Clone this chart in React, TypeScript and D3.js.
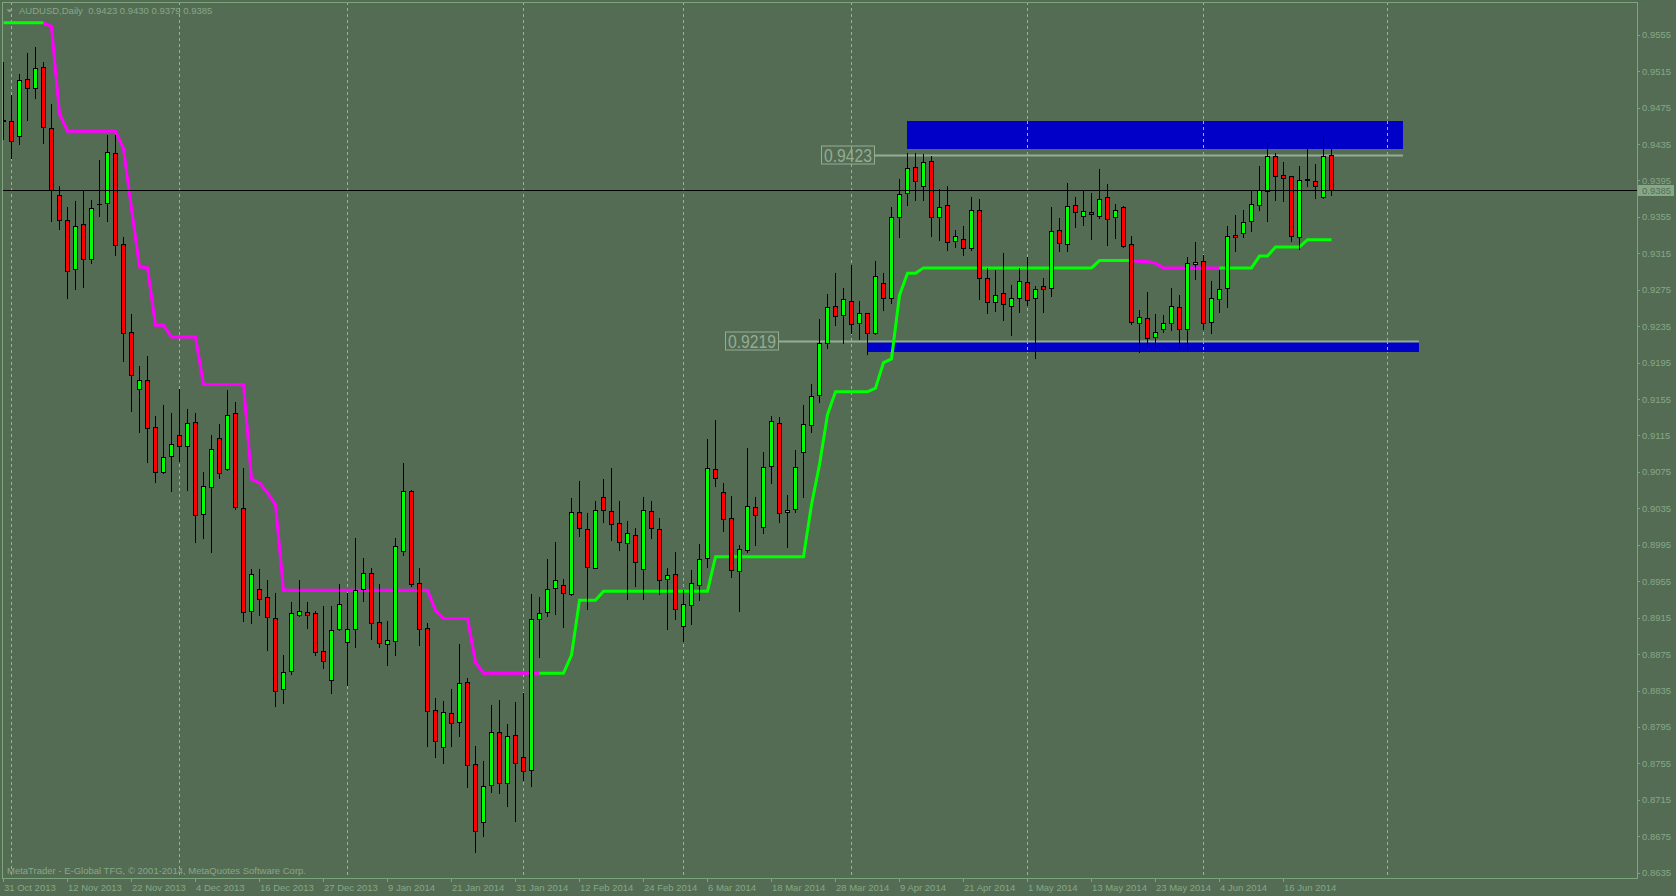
import React, { useEffect } from "react";
import * as d3 from "d3";

const N = null;

const symbol = "AUDUSD";
const period = "Daily";
const copyright = "MetaTrader - E-Global TFG, © 2001-2014, MetaQuotes Software Corp.";

const opens = [
  0.9461, 0.946, 0.9444, 0.9506, 0.9496, 0.9519, 0.9453, 0.9379, 0.9352, 0.9298,
  0.9347, 0.9309, 0.9369, 0.937, 0.9425, 0.9325, 0.9229, 0.9166, 0.9176, 0.9124,
  0.9075, 0.9092, 0.9116, 0.9104, 0.913, 0.9029, 0.9058, 0.9112, 0.9078, 0.914,
  0.9035, 0.8922, 0.8946, 0.8938, 0.8915, 0.8837, 0.8856, 0.8918, 0.8921, 0.892,
  0.8878, 0.8847, 0.8902, 0.8888, 0.8902, 0.8947, 0.8964, 0.891, 0.8886, 0.8889,
  0.8988, 0.9054, 0.8953, 0.8904, 0.8814, 0.8773, 0.881, 0.88, 0.8844, 0.8754,
  0.8691, 0.8731, 0.879, 0.8734, 0.8786, 0.8762, 0.8748, 0.8914, 0.8921, 0.8948,
  0.8951, 0.8941, 0.9031, 0.9012, 0.897, 0.9048, 0.9032, 0.9019, 0.8997, 0.9006,
  0.8968, 0.9032, 0.9012, 0.8957, 0.8963, 0.8906, 0.8929, 0.8951, 0.898, 0.9078,
  0.9053, 0.9024, 0.8966, 0.8989, 0.9037, 0.9014, 0.9081, 0.9129, 0.9031, 0.9034,
  0.9097, 0.9127, 0.9159, 0.9216, 0.9257, 0.9247, 0.9263, 0.9238, 0.9249, 0.9228,
  0.9282, 0.9266, 0.9355, 0.9381, 0.941, 0.9389, 0.9416, 0.9355, 0.9368, 0.9328,
  0.9331, 0.9321, 0.9362, 0.9288, 0.9262, 0.9271, 0.9257, 0.9266, 0.9284, 0.9266,
  0.9279, 0.9277, 0.9341, 0.9325, 0.9368, 0.9356, 0.936, 0.9356, 0.9377, 0.9355,
  0.9366, 0.9325, 0.9239, 0.9244, 0.9223, 0.9232, 0.9239, 0.9256, 0.9232, 0.9303,
  0.9307, 0.924, 0.9265, 0.9277, 0.9335, 0.9337, 0.935, 0.9368, 0.9383, 0.9422,
  0.9401, 0.94, 0.9333, 0.9397, 0.9394, 0.9377, 0.9423,
];
const highs = [
  0.9525, 0.9489, 0.9512, 0.9535, 0.9542, 0.9525, 0.9479, 0.9389, 0.9366, 0.9372,
  0.9385, 0.9374, 0.9417, 0.9445, 0.9445, 0.9333, 0.9248, 0.9191, 0.9202, 0.9136,
  0.9148, 0.914, 0.9166, 0.9144, 0.914, 0.9075, 0.9116, 0.9128, 0.9165, 0.9152,
  0.9079, 0.8968, 0.8968, 0.8956, 0.8942, 0.8874, 0.8932, 0.8956, 0.8932, 0.8922,
  0.8928, 0.8928, 0.8952, 0.8942, 0.9003, 0.8981, 0.8969, 0.8952, 0.8911, 0.9003,
  0.9085, 0.9055, 0.8969, 0.8909, 0.8827, 0.8824, 0.8837, 0.8886, 0.8849, 0.8774,
  0.8758, 0.8819, 0.8825, 0.8798, 0.8822, 0.8832, 0.8941, 0.8938, 0.8979, 0.8998,
  0.8957, 0.9046, 0.9065, 0.903, 0.9043, 0.9067, 0.9079, 0.9043, 0.9021, 0.9013,
  0.9048, 0.9043, 0.9024, 0.8969, 0.8987, 0.8945, 0.8967, 0.8996, 0.9111, 0.9132,
  0.9063, 0.9049, 0.8995, 0.9101, 0.9048, 0.9097, 0.9136, 0.9135, 0.905, 0.9099,
  0.9148, 0.9172, 0.9243, 0.927, 0.9293, 0.9277, 0.9302, 0.9263, 0.925, 0.9307,
  0.9293, 0.9366, 0.9397, 0.9425, 0.9425, 0.9424, 0.9422, 0.9386, 0.9389, 0.9341,
  0.9345, 0.9377, 0.9375, 0.9299, 0.9297, 0.9315, 0.928, 0.9299, 0.9311, 0.9279,
  0.9288, 0.9366, 0.9354, 0.9392, 0.9377, 0.9384, 0.9381, 0.9408, 0.9391, 0.9369,
  0.9367, 0.9334, 0.9253, 0.9272, 0.9248, 0.9247, 0.9277, 0.9269, 0.9311, 0.9327,
  0.9313, 0.9285, 0.9297, 0.9345, 0.9357, 0.9363, 0.9384, 0.9411, 0.9436, 0.9425,
  0.9415, 0.94, 0.9411, 0.943, 0.9413, 0.9444, 0.943,
];
const lows = [
  0.9441, 0.942, 0.9435, 0.9461, 0.9485, 0.9436, 0.9351, 0.9342, 0.9266, 0.9276,
  0.9278, 0.9304, 0.9356, 0.9351, 0.9313, 0.9197, 0.9142, 0.9119, 0.9086, 0.9064,
  0.9074, 0.9054, 0.9087, 0.9055, 0.8998, 0.9002, 0.8987, 0.9068, 0.9077, 0.9034,
  0.8911, 0.8909, 0.8918, 0.888, 0.8818, 0.8821, 0.8853, 0.8917, 0.8904, 0.8874,
  0.886, 0.8832, 0.8901, 0.8841, 0.8883, 0.8933, 0.8892, 0.8883, 0.8863, 0.8874,
  0.8984, 0.895, 0.8885, 0.8774, 0.8762, 0.8755, 0.8774, 0.8785, 0.8729, 0.8658,
  0.8675, 0.8724, 0.8723, 0.8708, 0.8692, 0.8737, 0.873, 0.8872, 0.8917, 0.8919,
  0.8905, 0.894, 0.9005, 0.8925, 0.8969, 0.902, 0.9, 0.8989, 0.8935, 0.895,
  0.8936, 0.9002, 0.8941, 0.8902, 0.8914, 0.8889, 0.8908, 0.8934, 0.8971, 0.906,
  0.901, 0.896, 0.8922, 0.8987, 0.8995, 0.9008, 0.9063, 0.902, 0.8993, 0.9031,
  0.9047, 0.9119, 0.9152, 0.9211, 0.9236, 0.9216, 0.9228, 0.9221, 0.9204, 0.9226,
  0.9253, 0.926, 0.9333, 0.9368, 0.9374, 0.9374, 0.9334, 0.933, 0.9319, 0.9322,
  0.9313, 0.9319, 0.9265, 0.925, 0.9252, 0.9242, 0.9225, 0.9251, 0.9258, 0.92,
  0.9251, 0.9268, 0.9317, 0.9317, 0.9344, 0.9346, 0.9331, 0.9354, 0.9324, 0.9332,
  0.9322, 0.9237, 0.9207, 0.9212, 0.9212, 0.9229, 0.9231, 0.9211, 0.921, 0.9287,
  0.9232, 0.9227, 0.9251, 0.9256, 0.9317, 0.9333, 0.9339, 0.9363, 0.935, 0.9374,
  0.9372, 0.9328, 0.932, 0.9389, 0.9376, 0.9376, 0.9379,
];
const closes = [
  0.946, 0.9438, 0.9505, 0.9497, 0.9518, 0.9454, 0.9384, 0.9352, 0.9296, 0.9345,
  0.9309, 0.9365, 0.9369, 0.9426, 0.9324, 0.9228, 0.9181, 0.9176, 0.9123, 0.9075,
  0.9091, 0.9106, 0.9103, 0.9129, 0.9028, 0.9059, 0.91, 0.9074, 0.9138, 0.9036,
  0.8921, 0.8963, 0.8936, 0.8916, 0.8835, 0.8855, 0.892, 0.8922, 0.8918, 0.8877,
  0.8867, 0.8901, 0.893, 0.8903, 0.8945, 0.8964, 0.8909, 0.8887, 0.889, 0.8994,
  0.9054, 0.8952, 0.8903, 0.8813, 0.878, 0.8811, 0.8799, 0.8843, 0.8753, 0.8681,
  0.873, 0.8789, 0.8733, 0.8785, 0.8755, 0.8747, 0.8913, 0.892, 0.8947, 0.8956,
  0.8942, 0.9031, 0.9013, 0.8971, 0.9033, 0.9033, 0.9018, 0.8998, 0.9008, 0.8976,
  0.9033, 0.9013, 0.8956, 0.8962, 0.8925, 0.893, 0.8953, 0.8979, 0.9079, 0.9068,
  0.9023, 0.8967, 0.899, 0.9038, 0.9028, 0.908, 0.9131, 0.903, 0.9033, 0.908,
  0.9128, 0.9158, 0.9217, 0.9256, 0.9246, 0.9265, 0.9237, 0.925, 0.9227, 0.929,
  0.9266, 0.9355, 0.938, 0.9409, 0.9394, 0.9415, 0.9355, 0.9366, 0.9327, 0.9334,
  0.9321, 0.9363, 0.9288, 0.9261, 0.9269, 0.9259, 0.9266, 0.9285, 0.9264, 0.9276,
  0.9276, 0.934, 0.9326, 0.9367, 0.936, 0.9361, 0.9358, 0.9375, 0.9353, 0.9362,
  0.9323, 0.924, 0.9245, 0.9222, 0.9229, 0.9238, 0.9257, 0.9232, 0.9304, 0.9306,
  0.9239, 0.9266, 0.9276, 0.9334, 0.9333, 0.9349, 0.9369, 0.9384, 0.9422, 0.94,
  0.9398, 0.9334, 0.9396, 0.9395, 0.9389, 0.9422, 0.9385,
];

// trailing trend line: green buffer (up) and magenta buffer (down)
const trendUp = [
  0.9568, 0.9568, 0.9568, 0.9568, 0.9568, 0.9568, N, N, N, N,
  N, N, N, N, N, N, N, N, N, N,
  N, N, N, N, N, N, N, N, N, N,
  N, N, N, N, N, N, N, N, N, N,
  N, N, N, N, N, N, N, N, N, N,
  N, N, N, N, N, N, N, N, N, N,
  N, N, N, N, N, N, N, 0.8854, 0.8854, 0.8854,
  0.8854, 0.8874, 0.8934, 0.8934, 0.8934, 0.8944, 0.8944, 0.8944, 0.8944, 0.8944,
  0.8944, 0.8944, 0.8944, 0.8944, 0.8944, 0.8944, 0.8944, 0.8944, 0.8944, 0.8982,
  0.8982, 0.8982, 0.8982, 0.8982, 0.8982, 0.8982, 0.8982, 0.8982, 0.8982, 0.8982,
  0.8982, 0.9039, 0.9083, 0.9138, 0.9163, 0.9163, 0.9163, 0.9163, 0.9163, 0.9167,
  0.9195, 0.9199, 0.9269, 0.9293, 0.9293, 0.9299, 0.9299, 0.9299, 0.9299, 0.9299,
  0.9299, 0.9299, 0.9299, 0.9299, 0.9299, 0.9299, 0.9299, 0.9299, 0.9299, 0.9299,
  0.9299, 0.9299, 0.9299, 0.9299, 0.9299, 0.9299, 0.9299, 0.9307, 0.9307, 0.9307,
  0.9307, 0.9307, N, N, N, N, N, N, N, N,
  N, N, 0.9299, 0.9299, 0.9299, 0.9299, 0.9299, 0.9312, 0.9312, 0.9322,
  0.9322, 0.9322, 0.9322, 0.933, 0.933, 0.933, 0.933,
];
const trendDown = [
  N, N, N, N, N, 0.9568, 0.9564, 0.9468, 0.9449, 0.9449,
  0.9449, 0.9449, 0.9449, 0.9449, 0.9449, 0.943, 0.9364, 0.93, 0.9299, 0.9236,
  0.9236, 0.9223, 0.9223, 0.9223, 0.9223, 0.9171, 0.9171, 0.9171, 0.9171, 0.9171,
  0.9171, 0.9067, 0.9063, 0.9052, 0.9039, 0.8945, 0.8945, 0.8945, 0.8945, 0.8945,
  0.8945, 0.8945, 0.8945, 0.8945, 0.8945, 0.8945, 0.8945, 0.8945, 0.8945, 0.8945,
  0.8945, 0.8945, 0.8945, 0.8945, 0.8923, 0.8914, 0.8914, 0.8914, 0.8914, 0.8866,
  0.8854, 0.8854, 0.8854, 0.8854, 0.8854, 0.8854, 0.8854, 0.8854, N, N,
  N, N, N, N, N, N, N, N, N, N,
  N, N, N, N, N, N, N, N, N, N,
  N, N, N, N, N, N, N, N, N, N,
  N, N, N, N, N, N, N, N, N, N,
  N, N, N, N, N, N, N, N, N, N,
  N, N, N, N, N, N, N, N, N, N,
  N, N, N, N, N, N, N, N, N, N,
  N, 0.9307, 0.9306, 0.9306, 0.9304, 0.9299, 0.9299, 0.9299, 0.9299, 0.9299,
  0.9299, 0.9299, 0.9299, N, N, N, N, N, N, N,
  N, N, N, N, N, N, N,
];

const dateLabels = [
  "31 Oct 2013", "12 Nov 2013", "22 Nov 2013", "4 Dec 2013", "16 Dec 2013",
  "27 Dec 2013", "9 Jan 2014", "21 Jan 2014", "31 Jan 2014", "12 Feb 2014",
  "24 Feb 2014", "6 Mar 2014", "18 Mar 2014", "28 Mar 2014", "9 Apr 2014",
  "21 Apr 2014", "1 May 2014", "13 May 2014", "23 May 2014", "4 Jun 2014",
  "16 Jun 2014",
];
const dateLabelEvery = 8;
const monthStartBars = [1, 22, 43, 65, 85, 106, 128, 150, 173];

const priceTicks = [
  0.9555, 0.9515, 0.9475, 0.9435, 0.9395, 0.9355, 0.9315, 0.9275, 0.9235, 0.9195,
  0.9155, 0.9115, 0.9075, 0.9035, 0.8995, 0.8955, 0.8915, 0.8875, 0.8835, 0.8795,
  0.8755, 0.8715, 0.8675, 0.8635,
];

// supply / demand zones (rectangles)
const zoneFrom = [113, 108];
const zoneTo = [175, 177];
const zoneHigh = [0.946, 0.9219];
const zoneLow = [0.943, 0.9207];
// labelled horizontal levels
const levelPrice = [0.9423, 0.9219];
const levelFrom = [109, 97];
const levelTo = [175, 177];

const C = {
  bg: "#546c54",
  frame: "#7da57d",
  text: "#86a886",
  grid: "#9cb09c",
  gridOnZone: "#3fd0ff",
  zone: "#0000c8",
  level: "#93ad93",
  up: "#00ff00",
  down: "#ff0000",
  trendUp: "#00ff00",
  trendDown: "#ff00ff",
};
const FONT = "'Liberation Sans', Arial, sans-serif";

export default function App() {
  useEffect(() => {
    document.body.style.margin = "0";
    document.body.style.background = C.bg;
  }, []);

  const W = 1676;
  const H = 896;
  const left = 2;
  const top = 2;
  const right = 1637;
  const bottom = 878;

  const n = closes.length;
  const x = d3.scaleLinear().domain([0, n - 1]).range([3, 3 + 8 * (n - 1)]);
  const y = d3.scaleLinear().domain([0.8635, 0.9555]).range([872.7, 34.7]);
  const cx = (i: number) => Math.round(x(i));
  const ry = (p: number) => Math.round(y(p));

  const lineGen = d3
    .line<number | null>()
    .defined((d) => d != null)
    .x((_, i) => cx(i) + 0.5)
    .y((d) => y(d as number));

  const last = n - 1;
  const fmt = d3.format(".4f");
  const title = `${symbol},${period}  ${fmt(opens[last])} ${fmt(highs[last])} ${fmt(lows[last])} ${fmt(closes[last])}`;
  const bid = closes[last];

  const zones = zoneFrom.map((f, k) => ({
    x0: cx(f),
    x1: cx(zoneTo[k]),
    y0: ry(zoneHigh[k]),
    y1: ry(zoneLow[k]),
  }));

  return (
    <svg width={W} height={H} style={{ display: "block", background: C.bg }}>
      <rect x={0} y={0} width={W} height={H} fill={C.bg} />
      <defs>
        <clipPath id="plot">
          <rect x={left} y={top} width={right - left} height={bottom - top} />
        </clipPath>
      </defs>

      <g clipPath="url(#plot)">
        {monthStartBars.map((b) => (
          <line
            key={"g" + b}
            x1={cx(b) + 0.5}
            x2={cx(b) + 0.5}
            y1={top}
            y2={bottom}
            stroke={C.grid}
            strokeWidth={1}
            strokeDasharray="3,3"
          />
        ))}

        {zones.map((z, k) => (
          <g key={"z" + k}>
            <rect x={z.x0} y={z.y0} width={z.x1 - z.x0} height={z.y1 - z.y0} fill={C.zone} />
            {monthStartBars
              .filter((b) => cx(b) > z.x0 && cx(b) < z.x1)
              .map((b) => (
                <line
                  key={"zg" + b}
                  x1={cx(b) + 0.5}
                  x2={cx(b) + 0.5}
                  y1={z.y0}
                  y2={z.y1}
                  stroke={C.gridOnZone}
                  strokeWidth={1}
                  strokeDasharray="3,3"
                />
              ))}
          </g>
        ))}

        {levelPrice.map((p, k) => {
          const yy = ry(p) + 0.5;
          const x0 = cx(levelFrom[k]);
          const x1 = cx(levelTo[k]);
          return (
            <g key={"l" + k}>
              <line x1={x0} x2={x1} y1={yy} y2={yy} stroke={C.level} strokeWidth={2} />
              <rect
                x={x0 - 53.5}
                y={yy - 9.5}
                width={53}
                height={18}
                fill="none"
                stroke={C.level}
                strokeWidth={1}
              />
              <text
                x={x0 - 51}
                y={yy + 6.5}
                fontFamily={FONT}
                fontSize={18}
                fill={C.level}
                textLength={48}
                lengthAdjust="spacingAndGlyphs"
              >
                {fmt(p)}
              </text>
            </g>
          );
        })}

        <path d={lineGen(trendDown) || ""} fill="none" stroke={C.trendDown} strokeWidth={3} />
        <path d={lineGen(trendUp) || ""} fill="none" stroke={C.trendUp} strokeWidth={3} />

        {closes.map((c, i) => {
          const o = opens[i];
          const xi = cx(i);
          const yh = ry(highs[i]);
          const yl = ry(lows[i]);
          const yt = ry(Math.max(o, c));
          const yb = ry(Math.min(o, c));
          return (
            <g key={"c" + i}>
              <line x1={xi + 0.5} x2={xi + 0.5} y1={yh} y2={yl + 1} stroke="#000" strokeWidth={1} />
              {yb - yt >= 1 ? (
                <rect
                  x={xi - 1.5}
                  y={yt + 0.5}
                  width={4}
                  height={yb - yt}
                  fill={c > o ? C.up : C.down}
                  stroke="#000"
                  strokeWidth={1}
                />
              ) : (
                <line x1={xi - 2} x2={xi + 3} y1={yt + 0.5} y2={yt + 0.5} stroke="#000" strokeWidth={1} />
              )}
            </g>
          );
        })}

        <line x1={left} x2={right} y1={ry(bid) + 0.5} y2={ry(bid) + 0.5} stroke="#000" strokeWidth={1} />
      </g>

      <rect
        x={left + 0.5}
        y={top + 0.5}
        width={right - left}
        height={bottom - top}
        fill="none"
        stroke={C.frame}
        strokeWidth={1}
      />

      <path d="M6.5,9.5 L12.5,9.5 L9.5,12.5 Z" fill={C.text} />
      <text x={19} y={14} fontFamily={FONT} fontSize={9.5} fill={C.text} xmlSpace="preserve" style={{ whiteSpace: "pre" }}>
        {title}
      </text>

      <text x={7} y={874} fontFamily={FONT} fontSize={9.5} fill={C.text}>
        {copyright}
      </text>

      {priceTicks.map((p) => (
        <g key={"p" + p}>
          <line x1={right} x2={right + 3} y1={ry(p) + 0.5} y2={ry(p) + 0.5} stroke={C.frame} />
          <text x={right + 5} y={y(p) + 3.5} fontFamily={FONT} fontSize={9.5} fill={C.text}>
            {fmt(p)}
          </text>
        </g>
      ))}
      <rect x={right + 1} y={ry(bid) - 5} width={36} height={11} fill="#86a886" />
      <text x={right + 5} y={ry(bid) + 4} fontFamily={FONT} fontSize={9.5} fill="#546c54">
        {fmt(bid)}
      </text>

      {dateLabels.map((lab, k) => {
        const xi = cx(k * dateLabelEvery);
        return (
          <g key={"d" + k}>
            <line x1={xi + 0.5} x2={xi + 0.5} y1={bottom} y2={bottom + 4} stroke={C.frame} />
            <text x={xi + 1} y={891} fontFamily={FONT} fontSize={9.5} fill={C.text}>
              {lab}
            </text>
          </g>
        );
      })}
    </svg>
  );
}
